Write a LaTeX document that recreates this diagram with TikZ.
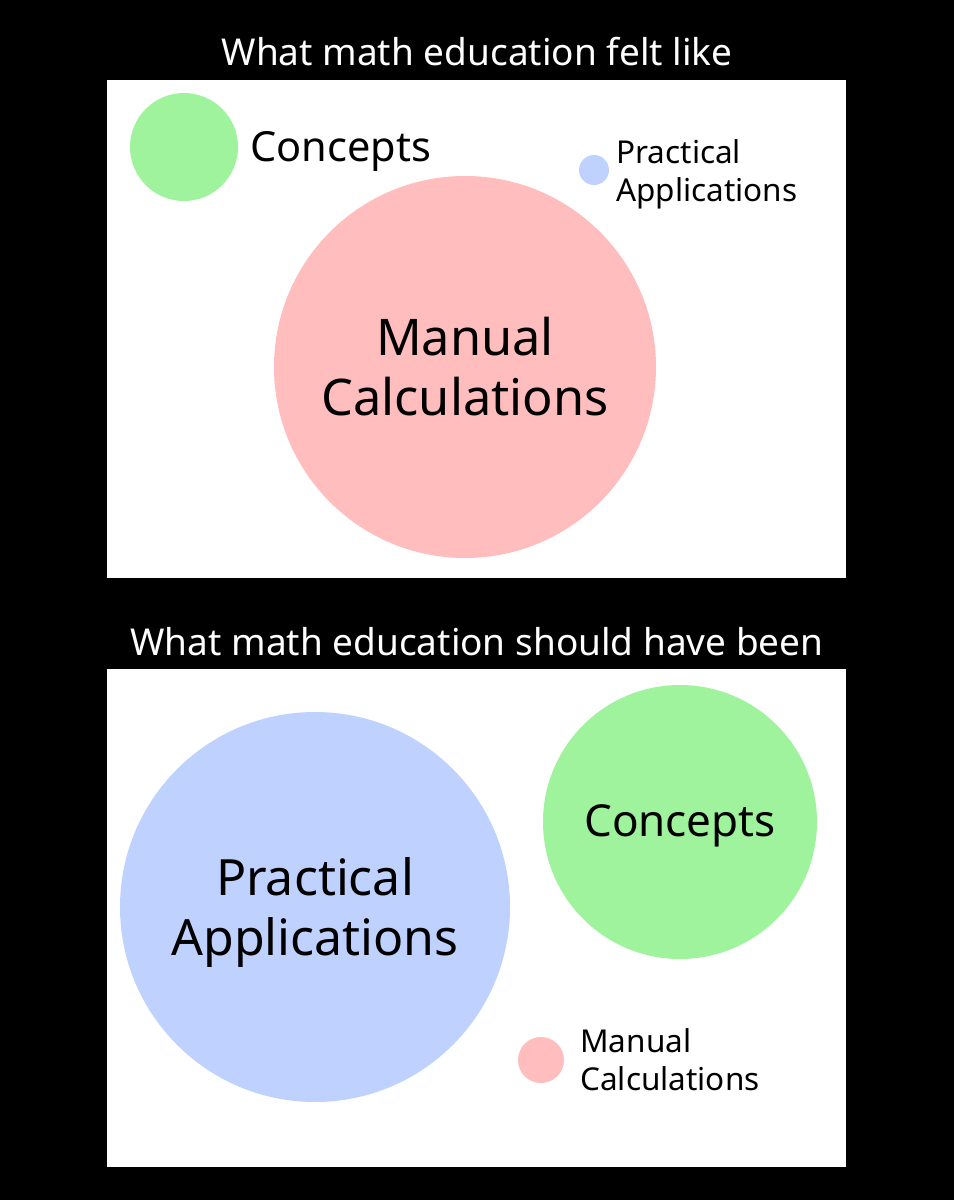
\documentclass[tikz,border=0pt]{standalone}
\usepackage{fontspec}
\setmainfont{Noto Sans}
\usepackage{tikz}
\usetikzlibrary{positioning}
\definecolor{conceptgreen}{HTML}{9EF39C}
\definecolor{calcpink}{HTML}{FFBDBD}
\definecolor{applblue}{HTML}{BFD2FF}

\begin{document}
\begin{tikzpicture}[
    x=1pt, y=-1pt,
    panel/.style={fill=white, draw=none},
    blob/.style={circle, draw=none, inner sep=0pt},
    title_text/.style={text=white, font=\fontsize{37}{42}\selectfont},
    big_text/.style={align=center, font=\fontsize{50.5}{60}\selectfont},
    mid_text/.style={align=center, inner sep=0pt, font=\fontsize{#1}{50}\selectfont},
    small_text/.style={align=left, font=\fontsize{31.5}{38}\selectfont, inner sep=0pt}
]

% --- BACKGROUND ---
\fill[black] (0,0) rectangle (954,1200);
\useasboundingbox (0,0) rectangle (954,1200);

% --- TOP PANEL ---
\node[title_text] (title_felt) at (477,52) {What math education felt like};
\fill[panel] (107,80) rectangle (846,578);

\node[blob, fill=conceptgreen, minimum size=108pt] (concepts_small) at (184,147) {};
\node[mid_text=41.5, right=12pt of concepts_small, yshift=-4pt] (concepts_label) {Concepts};

\node[blob, fill=applblue, minimum size=30pt] (appl_small) at (594,170) {};
\node[small_text, right=7pt of appl_small, yshift=-4pt] (appl_label) {Practical\\Applications};

\node[blob, fill=calcpink, minimum size=382pt] (calc_big) at (465,367) {};
\node[big_text] at (calc_big) {Manual\\Calculations};

% --- BOTTOM PANEL ---
\node[title_text] (title_should) at (477,642) {What math education should have been};
\fill[panel] (107,669) rectangle (846,1167);

\node[blob, fill=applblue, minimum size=390pt] (appl_big) at (315,907) {};
\node[big_text, font=\fontsize{50}{60}\selectfont, yshift=-5pt] at (appl_big) {Practical\\Applications};

\node[blob, fill=conceptgreen, minimum size=274pt] (concepts_big) at (680,822) {};
\node[mid_text=44, yshift=-4pt] at (concepts_big) {Concepts};

\node[blob, fill=calcpink, minimum size=46pt] (calc_small) at (541,1060) {};
\node[small_text, right=16pt of calc_small] (calc_label) {Manual\\Calculations};

\end{tikzpicture}
\end{document}
